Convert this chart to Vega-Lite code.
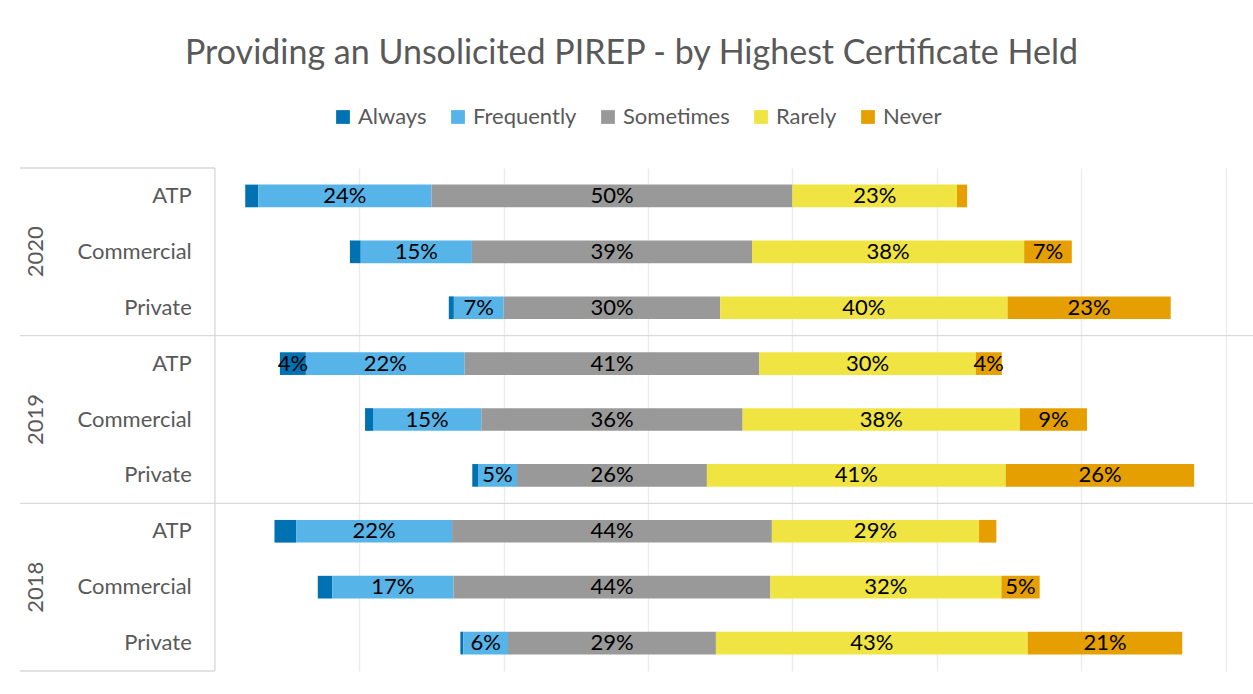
{
  "$schema": "https://vega.github.io/schema/vega-lite/v6.json",
  "width": 1233,
  "height": 503,
  "autosize": {"type": "none"},
  "padding": {"left": 20, "top": 168, "right": 0, "bottom": 23},
  "background": "white",
  "title": {
    "text": "Providing an Unsolicited PIREP - by Highest Certificate Held",
    "font": "Lato",
    "fontSize": 34,
    "fontWeight": "normal",
    "color": "#595959",
    "anchor": "middle",
    "dx": -5,
    "offset": 35
  },
  "data": {
    "values": [
      {"year": "2020", "cert": "ATP", "response": "Always", "pct": 1.8},
      {"year": "2020", "cert": "ATP", "response": "Frequently", "pct": 24.0},
      {"year": "2020", "cert": "ATP", "response": "Sometimes", "pct": 50.0},
      {"year": "2020", "cert": "ATP", "response": "Rarely", "pct": 22.8},
      {"year": "2020", "cert": "ATP", "response": "Never", "pct": 1.4},
      {"year": "2020", "cert": "Commercial", "response": "Always", "pct": 1.5},
      {"year": "2020", "cert": "Commercial", "response": "Frequently", "pct": 15.4},
      {"year": "2020", "cert": "Commercial", "response": "Sometimes", "pct": 38.8},
      {"year": "2020", "cert": "Commercial", "response": "Rarely", "pct": 37.7},
      {"year": "2020", "cert": "Commercial", "response": "Never", "pct": 6.6},
      {"year": "2020", "cert": "Private", "response": "Always", "pct": 0.7},
      {"year": "2020", "cert": "Private", "response": "Frequently", "pct": 6.9},
      {"year": "2020", "cert": "Private", "response": "Sometimes", "pct": 30.0},
      {"year": "2020", "cert": "Private", "response": "Rarely", "pct": 39.8},
      {"year": "2020", "cert": "Private", "response": "Never", "pct": 22.6},
      {"year": "2019", "cert": "ATP", "response": "Always", "pct": 3.6},
      {"year": "2019", "cert": "ATP", "response": "Frequently", "pct": 22.0},
      {"year": "2019", "cert": "ATP", "response": "Sometimes", "pct": 40.8},
      {"year": "2019", "cert": "ATP", "response": "Rarely", "pct": 30.0},
      {"year": "2019", "cert": "ATP", "response": "Never", "pct": 3.6},
      {"year": "2019", "cert": "Commercial", "response": "Always", "pct": 1.1},
      {"year": "2019", "cert": "Commercial", "response": "Frequently", "pct": 15.0},
      {"year": "2019", "cert": "Commercial", "response": "Sometimes", "pct": 36.2},
      {"year": "2019", "cert": "Commercial", "response": "Rarely", "pct": 38.4},
      {"year": "2019", "cert": "Commercial", "response": "Never", "pct": 9.3},
      {"year": "2019", "cert": "Private", "response": "Always", "pct": 0.8},
      {"year": "2019", "cert": "Private", "response": "Frequently", "pct": 5.4},
      {"year": "2019", "cert": "Private", "response": "Sometimes", "pct": 26.3},
      {"year": "2019", "cert": "Private", "response": "Rarely", "pct": 41.4},
      {"year": "2019", "cert": "Private", "response": "Never", "pct": 26.1},
      {"year": "2018", "cert": "ATP", "response": "Always", "pct": 3.0},
      {"year": "2018", "cert": "ATP", "response": "Frequently", "pct": 21.6},
      {"year": "2018", "cert": "ATP", "response": "Sometimes", "pct": 44.3},
      {"year": "2018", "cert": "ATP", "response": "Rarely", "pct": 28.7},
      {"year": "2018", "cert": "ATP", "response": "Never", "pct": 2.4},
      {"year": "2018", "cert": "Commercial", "response": "Always", "pct": 2.0},
      {"year": "2018", "cert": "Commercial", "response": "Frequently", "pct": 16.8},
      {"year": "2018", "cert": "Commercial", "response": "Sometimes", "pct": 43.9},
      {"year": "2018", "cert": "Commercial", "response": "Rarely", "pct": 32.0},
      {"year": "2018", "cert": "Commercial", "response": "Never", "pct": 5.3},
      {"year": "2018", "cert": "Private", "response": "Always", "pct": 0.4},
      {"year": "2018", "cert": "Private", "response": "Frequently", "pct": 6.2},
      {"year": "2018", "cert": "Private", "response": "Sometimes", "pct": 28.8},
      {"year": "2018", "cert": "Private", "response": "Rarely", "pct": 43.2},
      {"year": "2018", "cert": "Private", "response": "Never", "pct": 21.4}
    ]
  },
  "transform": [
    {"calculate": "datum.year + ' ' + datum.cert", "as": "key"},
    {"calculate": "indexof(['Always','Frequently','Sometimes','Rarely','Never'], datum.response)", "as": "ord"},
    {"calculate": "datum.ord < 2 ? datum.pct : (datum.ord == 2 ? datum.pct / 2 : 0)", "as": "w"},
    {"joinaggregate": [{"op": "sum", "field": "w", "as": "off"}], "groupby": ["key"]},
    {"stack": "pct", "groupby": ["key"], "sort": [{"field": "ord", "order": "ascending"}], "as": ["s0", "s1"]},
    {"calculate": "datum.s0 - datum.off", "as": "x0"},
    {"calculate": "datum.s1 - datum.off", "as": "x1"},
    {"calculate": "(datum.x0 + datum.x1) / 2", "as": "xm"},
    {"calculate": "format(datum.pct, '.0f') + '%'", "as": "label"}
  ],
  "layer": [
    {
      "mark": {"type": "bar", "height": {"band": 0.406}},
      "encoding": {
        "x": {
          "field": "x0", "type": "quantitative",
          "scale": {"domain": [-82, 88.8], "nice": false, "zero": false},
          "axis": {"values": [-35, -15, 5, 25, 45, 65, 85], "grid": true, "gridColor": "#ececec", "gridWidth": 1.3, "labels": false, "ticks": false, "domain": false, "title": null}
        },
        "x2": {"field": "x1"},
        "y": {
          "field": "key", "type": "nominal",
          "scale": {
            "domain": ["2020 ATP", "2020 Commercial", "2020 Private", "2019 ATP", "2019 Commercial", "2019 Private", "2018 ATP", "2018 Commercial", "2018 Private"],
            "paddingInner": 0, "paddingOuter": 0
          },
          "axis": null
        },
        "color": {
          "field": "response", "type": "nominal",
          "scale": {
            "domain": ["Always", "Frequently", "Sometimes", "Rarely", "Never"],
            "range": ["#0072B2", "#56B4E9", "#999999", "#F0E442", "#E69F00"]
          },
          "legend": {
            "title": null,
            "orient": "top",
            "direction": "horizontal",
            "symbolType": "square",
            "symbolSize": 190,
            "symbolStrokeWidth": 0,
            "labelFont": "Lato",
            "labelFontSize": 22,
            "labelColor": "#595959",
            "labelOffset": 4,
            "columnPadding": 20,
            "offset": 40
          }
        }
      }
    },
    {
      "transform": [{"filter": "datum.pct >= 3.5"}],
      "mark": {"type": "text", "font": "Lato", "fontSize": 22, "color": "#000000", "baseline": "middle", "align": "center"},
      "encoding": {
        "x": {"field": "xm", "type": "quantitative", "title": null},
        "y": {"field": "key", "type": "nominal"},
        "text": {"field": "label", "type": "nominal"}
      }
    },
    {
      "transform": [{"filter": "datum.ord == 2"}],
      "mark": {"type": "text", "font": "Lato", "fontSize": 22, "color": "#595959", "baseline": "middle", "align": "right"},
      "encoding": {
        "x": {"datum": -58.2, "type": "quantitative", "title": null},
        "y": {"field": "key", "type": "nominal"},
        "text": {"field": "cert", "type": "nominal"}
      }
    },
    {
      "transform": [{"filter": "datum.ord == 2 && datum.cert == 'Commercial'"}],
      "mark": {"type": "text", "font": "Lato", "fontSize": 22, "color": "#595959", "baseline": "middle", "align": "center", "angle": 270},
      "encoding": {
        "x": {"datum": -79.8, "type": "quantitative", "title": null},
        "y": {"field": "key", "type": "nominal"},
        "text": {"field": "year", "type": "nominal"}
      }
    },
    {
      "data": {"values": [{"key": "2019 ATP"}, {"key": "2018 ATP"}]},
      "mark": {"type": "rule", "color": "#d9d9d9", "strokeWidth": 1.4},
      "encoding": {
        "y": {"field": "key", "type": "nominal", "bandPosition": 0}
      }
    },
    {
      "data": {"values": [{"key": "2020 ATP"}]},
      "mark": {"type": "rule", "color": "#d9d9d9", "strokeWidth": 1.4},
      "encoding": {
        "x": {"datum": -82, "type": "quantitative", "title": null},
        "x2": {"datum": -55},
        "y": {"field": "key", "type": "nominal", "bandPosition": 0}
      }
    },
    {
      "data": {"values": [{"key": "2018 Private"}]},
      "mark": {"type": "rule", "color": "#d9d9d9", "strokeWidth": 1.4},
      "encoding": {
        "x": {"datum": -82, "type": "quantitative", "title": null},
        "x2": {"datum": -55},
        "y": {"field": "key", "type": "nominal", "bandPosition": 1}
      }
    },
    {
      "data": {"values": [{}]},
      "mark": {"type": "rule", "color": "#d9d9d9", "strokeWidth": 1.4},
      "encoding": {
        "x": {"datum": -55, "type": "quantitative", "title": null}
      }
    }
  ],
  "config": {
    "view": {"stroke": null},
    "font": "Lato",
    "legend": {"layout": {"top": {"anchor": "middle"}}}
  }
}
